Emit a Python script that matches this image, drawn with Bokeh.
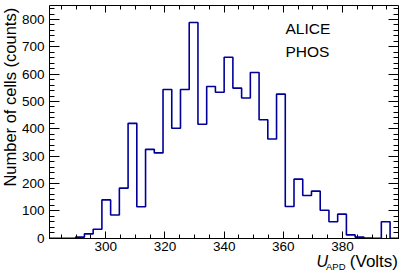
import math
from bokeh.plotting import figure
from bokeh.models import Range1d, LinearAxis, SingleIntervalTicker, Label
from bokeh.embed import file_html
from bokeh.resources import INLINE

# ---- data -------------------------------------------------------------
x_start, x_end = 281.0, 399.0          # histogram range (Volts)
n_bins = 40
counts = [0, 0, 0, 4, 16, 33, 140, 85, 183, 420,
          115, 325, 312, 544, 402, 544, 789, 417, 555, 534,
          662, 549, 513, 606, 433, 363, 527, 116, 216, 156,
          172, 102, 60, 88, 12, 4, 1, 0, 60, 0]
y_start, y_end = 0, 850
x_tick_interval = 20
y_tick_interval = 100
annot_lines = ["ALICE", "PHOS"]
y_title = "Number of cells (counts)"
x_title_main, x_title_sub, x_title_unit = "U", "APD", "(Volts)"

# ---- layout (pixels of the 407x277 canvas) ------------------------------
W, H = 407, 277
BOX_L, BOX_R, BOX_T, BOX_B = 49.0, 398.3, 5.3, 237.7
sx = (BOX_R - BOX_L) / (x_end - x_start)      # px per volt
sy = (BOX_B - BOX_T) / (y_end - y_start)      # px per count
view_x0 = x_start - BOX_L / sx
view_x1 = x_end + (W - BOX_R) / sx
view_y0 = y_start - (H - BOX_B) / sy
view_y1 = y_end + BOX_T / sy
BASE_FIX = 0.33   # em offset between wanted baseline and Bokeh's anchor


def dx(px):
    return view_x0 + px / sx


def dy(py):
    return view_y1 - py / sy


FONT = "Liberation Sans"
LINE = "#000099"

p = figure(width=W, height=H,
           x_range=Range1d(view_x0, view_x1), y_range=Range1d(view_y0, view_y1),
           output_backend="svg", toolbar_location=None,
           x_axis_type=None, y_axis_type=None,
           min_border_left=0, min_border_right=0,
           min_border_top=0, min_border_bottom=0)
p.title.visible = False
p.xgrid.visible = False
p.ygrid.visible = False
p.outline_line_color = None
p.background_fill_color = "white"
p.border_fill_color = "white"


def make_axis(interval, minor, loc, bounds, tin, min_in, labels, standoff=0):
    ax = LinearAxis(ticker=SingleIntervalTicker(interval=interval, num_minor_ticks=minor),
                    fixed_location=loc, bounds=bounds)
    ax.major_tick_in = tin
    ax.major_tick_out = 0
    ax.minor_tick_in = min_in
    ax.minor_tick_out = 0
    ax.axis_line_color = "black"
    ax.axis_line_width = 1
    ax.major_tick_line_color = "black"
    ax.minor_tick_line_color = "black"
    ax.major_label_text_font = FONT
    ax.major_label_text_font_size = "13.5px"
    ax.major_label_standoff = standoff
    ax.major_label_text_color = "black" if labels else None
    return ax


xb = (x_start, x_end)
yb = (y_start, y_end)
p.add_layout(make_axis(x_tick_interval, 4, y_start, xb, 7, 4, True, 4), "below")
p.add_layout(make_axis(x_tick_interval, 4, y_end, xb, 7, 4, False), "above")
p.add_layout(make_axis(y_tick_interval, 5, x_start, yb, 10, 5, True, 5), "left")
p.add_layout(make_axis(y_tick_interval, 5, x_end, yb, 10, 5, False), "right")

# histogram outline
bin_w = (x_end - x_start) / n_bins
edges = [x_start + i * bin_w for i in range(n_bins + 1)]
p.step(x=edges, y=counts + [counts[-1]], mode="after",
       line_color=LINE, line_width=1.6)


def text_at(px, py, txt, size, align="left", style="normal", angle=0.0):
    fix = BASE_FIX * size
    if angle:
        px, py = px - fix, py
    else:
        py = py - fix
    p.add_layout(Label(x=dx(px), y=dy(py), text=txt, angle=angle,
                       text_font=FONT, text_font_size=f"{size}px",
                       text_font_style=style, text_align=align,
                       text_baseline="alphabetic", text_color="black"))


# texts
for i, t in enumerate(annot_lines):
    text_at(285, 33.3 + 22.4 * i, t, 15.5)

text_at(15, 7.3, y_title, 16.5, align="right", angle=math.pi / 2)

text_at(316, 266.3, x_title_main, 16, style="italic")
text_at(325.5, 269.0, x_title_sub, 9.5)
text_at(397.5, 266.3, x_title_unit, 17, align="right")

open("out.html", "w").write(file_html(p, INLINE))
